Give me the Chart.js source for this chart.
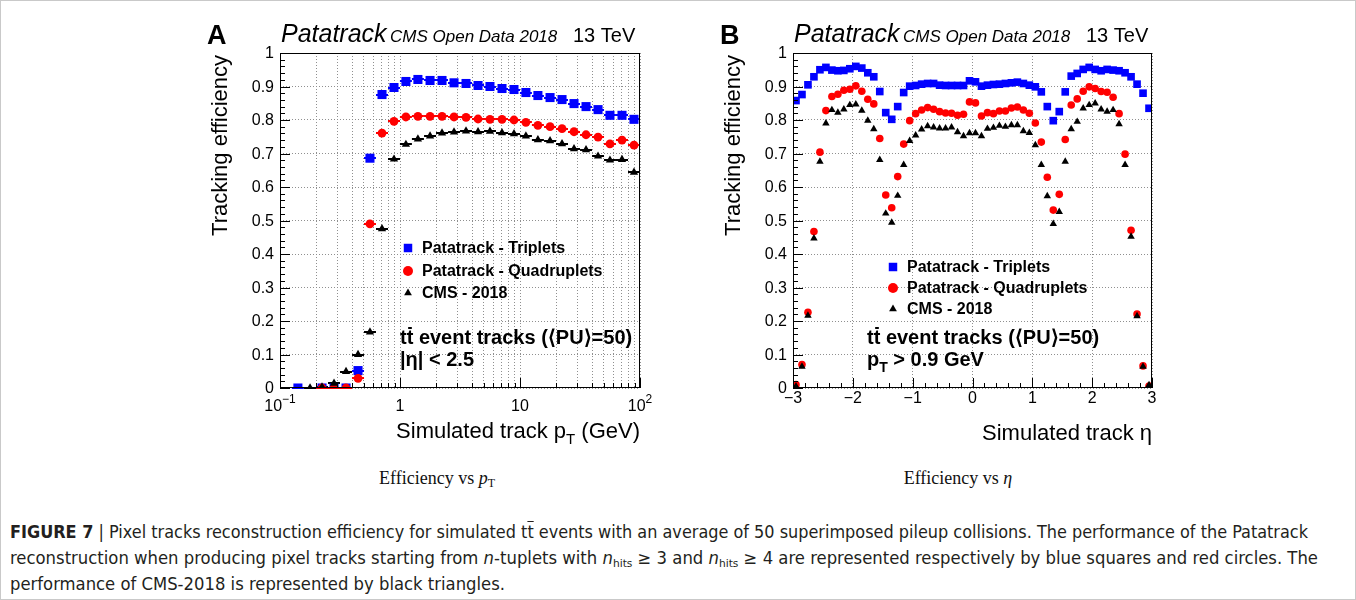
<!DOCTYPE html>
<html>
<head>
<meta charset="utf-8">
<script src="https://cdn.jsdelivr.net/npm/chart.js@4.4.1/dist/chart.umd.min.js"></script>
<style>
  html, body { margin: 0; padding: 0; background: #fff; }
  body { position: relative; width: 1356px; height: 600px; overflow: hidden; }
  #frame { position: absolute; left: 0; top: 0; width: 1356px; height: 600px; box-sizing: border-box; border: 1px solid #c9c9c9; }
  canvas { position: absolute; top: 0; }
  .sub { position: absolute; width: 300px; text-align: center; font-family: "Liberation Serif", "DejaVu Serif", serif; font-size: 18px; color: #111; }
  .sub sub { font-size: 12px; vertical-align: -3px; font-style: normal; }
  .cap { position: absolute; left: 10px; white-space: nowrap; transform-origin: 0 50%;
         font-family: "Liberation Sans Narrow", "DejaVu Sans Condensed", "Roboto Condensed", "Liberation Sans", sans-serif;
         font-size: 17px; color: #231f20; line-height: 20px; }
  .cap sub { font-size: 11px; vertical-align: -3px; line-height: 0; }
  .ob { text-decoration: overline; }
</style>
</head>
<body>
<div id="frame"></div>
<canvas id="chartA" width="490" height="460" style="left:190px"></canvas>
<canvas id="chartB" width="490" height="460" style="left:703px"></canvas>
<div class="sub" style="left:287px; top:468px;">Efficiency vs <i>p</i><sub>T</sub></div>
<div class="sub" style="left:808px; top:468px;">Efficiency vs <i>η</i></div>
<div class="cap" data-w="1298" style="top:522px;"><b>FIGURE 7</b> | Pixel tracks reconstruction efficiency for simulated t<span class="ob">t</span> events with an average of 50 superimposed pileup collisions. The performance of the Patatrack</div>
<div class="cap" data-w="1308" style="top:548px;">reconstruction when producing pixel tracks starting from <i>n</i>-tuplets with <i>n</i><sub>hits</sub> ≥ 3 and <i>n</i><sub>hits</sub> ≥ 4 are represented respectively by blue squares and red circles. The</div>
<div class="cap" data-w="495" style="top:574px;">performance of CMS-2018 is represented by black triangles.</div>
<script>
// ---- panel A: efficiency vs simulated track pT (bin centres, GeV) ----
const ptCenters = [0.141, 0.178, 0.224, 0.282, 0.355, 0.447, 0.562, 0.708, 0.891, 1.12, 1.41, 1.78, 2.24, 2.82, 3.55,
  4.47, 5.62, 7.08, 8.91, 11.2, 14.1, 17.8, 22.4, 28.2, 35.5, 44.7, 56.2, 70.8, 89.1];
const ptTriplets = [0, null, 0, 0, 0, 0.052, 0.686, 0.876, 0.897, 0.915, 0.921, 0.918, 0.918, 0.911, 0.909,
  0.903, 0.900, 0.894, 0.891, 0.882, 0.873, 0.867, 0.861, 0.849, 0.840, 0.831, 0.814, 0.814, 0.802];
const ptQuadruplets = [null, null, 0, 0, 0, 0.029, 0.490, 0.761, 0.796, 0.809, 0.811, 0.811, 0.811, 0.809, 0.808,
  0.803, 0.802, 0.802, 0.800, 0.793, 0.784, 0.780, 0.774, 0.765, 0.756, 0.749, 0.729, 0.740, 0.725];
const ptCms2018 = [null, 0, 0.003, 0.014, 0.049, 0.100, 0.167, 0.475, 0.683, 0.727, 0.743, 0.752, 0.761, 0.764, 0.767,
  0.765, 0.766, 0.762, 0.759, 0.752, 0.741, 0.738, 0.729, 0.714, 0.711, 0.692, 0.680, 0.682, 0.644];
const ptGridValues = [0.1, 0.2, 0.3, 0.4, 0.5, 0.6, 0.7, 0.8, 0.9, 1, 2, 3, 4, 5, 6, 7, 8, 9,
  10, 20, 30, 40, 50, 60, 70, 80, 90, 100];
const ptTickValues = [0.1, 1, 10, 100];
const ptTickLabels = [['10', '\u22121'], ['1', ''], ['10', ''], ['10', '2']];

// ---- panel B: efficiency vs simulated track eta ----
const etaCenters = [-2.95, -2.85, -2.75, -2.65, -2.55, -2.45, -2.35, -2.25, -2.15, -2.05, -1.95, -1.85, -1.75, -1.65, -1.55,
  -1.45, -1.35, -1.25, -1.15, -1.05, -0.95, -0.85, -0.75, -0.65, -0.55, -0.45, -0.35, -0.25, -0.15, -0.05,
  0.05, 0.15, 0.25, 0.35, 0.45, 0.55, 0.65, 0.75, 0.85, 0.95, 1.05, 1.15, 1.25, 1.35, 1.45,
  1.55, 1.65, 1.75, 1.85, 1.95, 2.05, 2.15, 2.25, 2.35, 2.45, 2.55, 2.65, 2.75, 2.85, 2.95];
const etaTriplets = [0.858, 0.876, 0.905, 0.929, 0.950, 0.957, 0.949, 0.947, 0.948, 0.953, 0.960, 0.955, 0.941, 0.929, 0.885,
  0.822, 0.802, 0.840, 0.882, 0.901, 0.903, 0.907, 0.909, 0.909, 0.904, 0.903, 0.903, 0.903, 0.903, 0.917,
  0.914, 0.901, 0.904, 0.906, 0.907, 0.909, 0.911, 0.913, 0.909, 0.904, 0.899, 0.884, 0.840, 0.798, 0.825,
  0.884, 0.931, 0.939, 0.951, 0.957, 0.951, 0.947, 0.951, 0.949, 0.947, 0.941, 0.929, 0.907, 0.880, 0.835];
const etaQuadruplets = [0.010, 0.070, 0.226, 0.467, 0.704, 0.828, 0.870, 0.877, 0.889, 0.892, 0.902, 0.886, 0.862, 0.848, 0.745,
  0.576, 0.538, 0.631, 0.728, 0.798, 0.819, 0.830, 0.837, 0.832, 0.825, 0.821, 0.820, 0.814, 0.817, 0.854,
  0.851, 0.812, 0.822, 0.819, 0.827, 0.827, 0.836, 0.839, 0.830, 0.820, 0.791, 0.734, 0.629, 0.531, 0.578,
  0.742, 0.845, 0.863, 0.886, 0.899, 0.894, 0.885, 0.883, 0.868, 0.819, 0.698, 0.471, 0.221, 0.066, 0.006];
const etaCms2018 = [0.005, 0.064, 0.216, 0.447, 0.676, 0.790, 0.830, 0.822, 0.832, 0.845, 0.847, 0.828, 0.798, 0.773, 0.681,
  0.521, 0.494, 0.574, 0.666, 0.738, 0.754, 0.772, 0.782, 0.778, 0.775, 0.775, 0.778, 0.764, 0.752, 0.761,
  0.761, 0.752, 0.774, 0.777, 0.783, 0.780, 0.785, 0.785, 0.767, 0.762, 0.725, 0.666, 0.573, 0.490, 0.526,
  0.676, 0.773, 0.795, 0.835, 0.845, 0.850, 0.832, 0.825, 0.830, 0.788, 0.666, 0.452, 0.215, 0.064, 0.009];
const etaTickValues = [-3, -2, -1, 0, 1, 2, 3];
const etaTickLabels = ['\u22123', '\u22122', '\u22121', '0', '1', '2', '3'];

const yTickValues = [0, 0.1, 0.2, 0.3, 0.4, 0.5, 0.6, 0.7, 0.8, 0.9, 1];
const yTickLabels = ['0', '0.1', '0.2', '0.3', '0.4', '0.5', '0.6', '0.7', '0.8', '0.9', '1'];

const seriesNames = ['Patatrack - Triplets', 'Patatrack - Quadruplets', 'CMS - 2018'];
const seriesColors = ['#0000ff', '#ff0000', '#000000'];
const seriesStyles = ['rect', 'circle', 'triangle'];

const SANS = '"Liberation Sans", Arial, Helvetica, sans-serif';

function points(xs, ys) {
  const out = [];
  xs.forEach((x, i) => { if (ys[i] !== null) out.push({ x: x, y: ys[i] }); });
  return out;
}

function dataset(k, xs, ys, radius) {
  return {
    label: seriesNames[k],
    data: points(xs, ys),
    showLine: false,
    pointStyle: seriesStyles[k],
    pointRadius: radius[k],
    pointBackgroundColor: seriesColors[k],
    pointBorderColor: seriesColors[k],
    pointBorderWidth: 0,
    backgroundColor: seriesColors[k],
    borderColor: seriesColors[k],
    order: 3 - k
  };
}

// draw text made of pieces [text, font, dy, overbar]
function rich(ctx, x, y, parts, align) {
  const widths = parts.map(p => { ctx.font = p[1]; return ctx.measureText(p[0]).width; });
  const total = widths.reduce((a, b) => a + b, 0);
  let cx = align === 'right' ? x - total : align === 'center' ? x - total / 2 : x;
  parts.forEach((p, i) => {
    ctx.font = p[1];
    ctx.fillText(p[0], cx, y + (p[2] || 0));
    if (p[3]) ctx.fillRect(cx + 1.5, y - 17, widths[i] - 3, 2);
    cx += widths[i];
  });
}

function makeDecor(cfg) {
  return {
    id: 'decor' + cfg.letter,
    beforeDatasetsDraw(chart) {
      if (!cfg.binErrors) return;
      const ctx = chart.ctx, xs = chart.scales.x, ys = chart.scales.y;
      ctx.save();
      ctx.lineWidth = 2;
      cfg.binErrors.forEach((vals, k) => {
        ctx.strokeStyle = seriesColors[k];
        ptCenters.forEach((c, i) => {
          if (vals[i] === null) return;
          const y = Math.round(ys.getPixelForValue(vals[i]));
          ctx.beginPath();
          ctx.moveTo(xs.getPixelForValue(c / 1.122), y);
          ctx.lineTo(xs.getPixelForValue(c * 1.122), y);
          ctx.stroke();
        });
      });
      ctx.restore();
    },
    afterDraw(chart) {
      const ctx = chart.ctx, xs = chart.scales.x, ys = chart.scales.y;
      const a = chart.chartArea;
      const L = a.left, R = a.right, T = a.top, B = a.bottom;
      const o = cfg.ox;
      ctx.save();
      ctx.fillStyle = '#000';
      ctx.strokeStyle = '#000';
      ctx.lineWidth = 1;
      ctx.strokeRect(L + 0.5, T + 0.5, R - L - 1, B - T - 1);

      // inward ticks on the y axis
      ctx.beginPath();
      for (let j = 0; j <= 50; j++) {
        const y = Math.round(ys.getPixelForValue(j / 50)) + 0.5;
        ctx.moveTo(L, y);
        ctx.lineTo(L + (j % 5 === 0 ? 10 : 5), y);
      }
      // inward ticks on the x axis
      if (cfg.kind === 'pt') {
        for (let d = -1; d <= 2; d++) {
          for (let m = 1; m <= 9; m++) {
            const v = m * Math.pow(10, d);
            if (v > 100.0001) break;
            const x = Math.round(xs.getPixelForValue(v)) + 0.5;
            ctx.moveTo(x, B);
            ctx.lineTo(x, B - (m === 1 ? 10 : 5));
          }
        }
      } else {
        for (let j = -15; j <= 15; j++) {
          const x = Math.round(xs.getPixelForValue(j / 5)) + 0.5;
          ctx.moveTo(x, B);
          ctx.lineTo(x, B - (j % 5 === 0 ? 10 : 5));
        }
      }
      ctx.stroke();

      // y tick labels
      ctx.font = '16px ' + SANS;
      ctx.textAlign = 'right';
      ctx.textBaseline = 'middle';
      yTickValues.forEach((v, i) => ctx.fillText(yTickLabels[i], L - 6, ys.getPixelForValue(v) + 1));

      // x tick labels
      ctx.textAlign = 'left';
      ctx.textBaseline = 'alphabetic';
      if (cfg.kind === 'pt') {
        ptTickValues.forEach((v, i) => {
          const lab = ptTickLabels[i];
          rich(ctx, xs.getPixelForValue(v), B + 23,
            [[lab[0], '16px ' + SANS, 0], [lab[1], '12px ' + SANS, -8]], 'center');
        });
      } else {
        etaTickValues.forEach((v, i) => {
          rich(ctx, xs.getPixelForValue(v), B + 15, [[etaTickLabels[i], '16px ' + SANS, 0]], 'center');
        });
      }

      // axis titles
      ctx.save();
      ctx.translate(cfg.yTitleX - o, T + 2);
      ctx.rotate(-Math.PI / 2);
      ctx.font = '22px ' + SANS;
      ctx.textAlign = 'right';
      ctx.textBaseline = 'middle';
      ctx.fillText('Tracking efficiency', 0, 0);
      ctx.restore();
      ctx.textAlign = 'left';
      ctx.textBaseline = 'alphabetic';
      if (cfg.kind === 'pt') {
        rich(ctx, R, 438, [['Simulated track p', '22px ' + SANS, 0], ['T', '15px ' + SANS, 6],
          [' (GeV)', '22px ' + SANS, 0]], 'right');
      } else {
        rich(ctx, R, 440, [['Simulated track \u03b7', '22px ' + SANS, 0]], 'right');
      }

      // header
      ctx.font = 'bold 27px ' + SANS;
      ctx.fillText(cfg.letter, cfg.letterX - o, 44);
      ctx.font = 'italic 25px ' + SANS;
      ctx.fillText('Patatrack', L + 1, 42);
      ctx.font = 'italic 17px ' + SANS;
      ctx.fillText('CMS Open Data 2018', L + 110, 42);
      ctx.font = '20px ' + SANS;
      ctx.fillText('13 TeV', L + 293, 42);

      // legend
      ctx.textBaseline = 'middle';
      const legR = [6, 5, 4.5];
      seriesNames.forEach((name, k) => {
        const y = cfg.legendY[k];
        ctx.fillStyle = seriesColors[k];
        Chart.helpers.drawPoint(ctx, { pointStyle: seriesStyles[k], radius: legR[k], rotation: 0, borderWidth: 0 },
          cfg.legendX - o, y);
        ctx.fillStyle = '#000';
        ctx.font = 'bold 16px ' + SANS;
        ctx.fillText(name, cfg.legendX - o + 14, y + 1);
      });

      // sample description
      ctx.textBaseline = 'alphabetic';
      const bf = 'bold 20px ' + SANS;
      rich(ctx, cfg.noteX - o, 344, [['t', bf, 0], ['t', bf, 0, true], [' event tracks (\u27e8PU\u27e9=50)', bf, 0]], 'left');
      if (cfg.kind === 'pt') {
        rich(ctx, cfg.noteX - o, 366, [['|\u03b7| < 2.5', bf, 0]], 'left');
      } else {
        rich(ctx, cfg.noteX - o, 366, [['p', bf, 0], ['T', 'bold 14px ' + SANS, 6], [' > 0.9 GeV', bf, 0]], 'left');
      }
      ctx.restore();
    }
  };
}

function gridOpts() {
  return { color: '#8f8f8f', lineWidth: 1, drawTicks: false };
}

const chartA = new Chart(document.getElementById('chartA'), {
  type: 'scatter',
  data: {
    datasets: [
      dataset(0, ptCenters, ptTriplets, [6.4, 4.4, 4.8]),
      dataset(1, ptCenters, ptQuadruplets, [6.4, 4.4, 4.8]),
      dataset(2, ptCenters, ptCms2018, [6.4, 4.4, 4.8])
    ]
  },
  options: {
    responsive: false,
    animation: false,
    events: [],
    layout: { padding: { top: 53, right: 40, left: 0, bottom: 0 } },
    plugins: { legend: { display: false }, tooltip: { enabled: false } },
    scales: {
      x: {
        type: 'logarithmic', min: 0.1, max: 100,
        afterFit: s => { s.height = 72; },
        afterBuildTicks: s => { s.ticks = ptGridValues.map(v => ({ value: v })); },
        ticks: { display: false },
        grid: gridOpts(),
        border: { display: false, dash: [1, 2] }
      },
      y: {
        min: 0, max: 1,
        afterFit: s => { s.width = 90; },
        ticks: { display: false, stepSize: 0.1 },
        grid: gridOpts(),
        border: { display: false, dash: [1, 2] }
      }
    }
  },
  plugins: [makeDecor({
    kind: 'pt', letter: 'A', ox: 190, letterX: 207, yTitleX: 221,
    legendX: 408, legendY: [248, 271, 293], noteX: 400,
    binErrors: [ptTriplets, ptQuadruplets, ptCms2018]
  })]
});

const chartB = new Chart(document.getElementById('chartB'), {
  type: 'scatter',
  data: {
    datasets: [
      dataset(0, etaCenters, etaTriplets, [5.4, 3.8, 4.3]),
      dataset(1, etaCenters, etaQuadruplets, [5.4, 3.8, 4.3]),
      dataset(2, etaCenters, etaCms2018, [5.4, 3.8, 4.3])
    ]
  },
  options: {
    responsive: false,
    animation: false,
    events: [],
    layout: { padding: { top: 53, right: 41, left: 0, bottom: 0 } },
    plugins: { legend: { display: false }, tooltip: { enabled: false } },
    scales: {
      x: {
        type: 'linear', min: -3, max: 3,
        afterFit: s => { s.height = 72; },
        ticks: { display: false, stepSize: 1 },
        grid: gridOpts(),
        border: { display: false, dash: [1, 2] }
      },
      y: {
        min: 0, max: 1,
        afterFit: s => { s.width = 90; },
        ticks: { display: false, stepSize: 0.1 },
        grid: gridOpts(),
        border: { display: false, dash: [1, 2] }
      }
    }
  },
  plugins: [makeDecor({
    kind: 'eta', letter: 'B', ox: 703, letterX: 720, yTitleX: 734,
    legendX: 893, legendY: [267, 288, 309], noteX: 867
  })]
});

// fit the caption lines to the widths of the printed figure
document.querySelectorAll('.cap').forEach(el => {
  const w = el.getBoundingClientRect().width;
  el.style.transform = 'scaleX(' + (Number(el.dataset.w) / w) + ')';
});
</script>
</body>
</html>
